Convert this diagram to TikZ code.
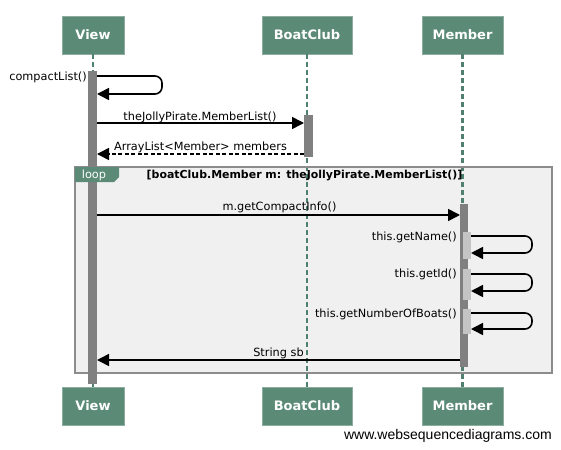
\documentclass[tikz,border=0pt]{standalone}
\usepackage{fontspec}
\setmainfont{DejaVu Sans}
\newfontfamily\wmfont{Liberation Sans}
\usetikzlibrary{arrows.meta}
\definecolor{wsgreen}{HTML}{5B8A76}
\definecolor{wsline}{HTML}{4F8070}
\definecolor{actgray}{HTML}{808080}
\definecolor{actlight}{HTML}{C4C4C4}
\definecolor{framefill}{HTML}{F0F0F0}
\definecolor{frameborder}{HTML}{8C8C8C}
\begin{document}
\begin{tikzpicture}[x=1pt,y=-1pt,
 participant/.style={fill=wsgreen, draw=wsgreen!70!white, line width=0.6pt, text=white,
   font=\fontsize{13}{15}\selectfont\bfseries, minimum height=38pt, inner sep=0pt},
 lifeline/.style={draw=wsline, line width=2.5pt, dash pattern=on 5pt off 3pt},
 actbar/.style={fill=actgray, draw=none},
 subbar/.style={fill=actlight, draw=none},
 msg/.style={line width=1.6pt, -{Triangle[length=12pt,width=12pt]}},
 retmsg/.style={msg, dash pattern=on 4pt off 2.5pt},
 selfmsg/.style={msg, rounded corners=7pt},
 lbl/.style={font=\fontsize{11.3}{13}\selectfont, inner sep=0pt},
]
\useasboundingbox (0,0) rectangle (561,449);

% participants
\node[participant, minimum width=62pt] (viewT) at (93,35) {View};
\node[participant, minimum width=90pt] (clubT) at (307,35) {BoatClub};
\node[participant, minimum width=81pt] (membT) at (462.5,35) {Member};
\node[participant, minimum width=62pt] (viewB) at (93,406) {View};
\node[participant, minimum width=90pt] (clubB) at (307,406) {BoatClub};
\node[participant, minimum width=81pt] (membB) at (462.5,406) {Member};

% loop frame fill
\fill[framefill] (75,167) rectangle (552,373);

% lifelines
\draw[lifeline] (viewT.south) -- (viewB.north);
\draw[lifeline] (clubT.south) -- (clubB.north);
\draw[lifeline] (membT.south) -- (membB.north);

% frame border
\draw[frameborder, line width=1.8pt] (75,167) rectangle (552,373);

% activation bars
\fill[actbar] (88,71) rectangle (97,384);
\fill[actbar] (304,115) rectangle (312.5,157);
\fill[actbar] (460,204) rectangle (468,367);
\fill[subbar] (463,232) rectangle (471,259);
\fill[subbar] (463,269) rectangle (471,300);
\fill[subbar] (463,309) rectangle (471,334);

% loop tab and condition
\fill[wsgreen] (75,167) -- (119,167) -- (119,177) -- (114,182) -- (75,182) -- cycle;
\node[lbl, text=white] (looplbl) at (94,175) {loop};
\node[lbl, font=\fontsize{10.95}{13}\selectfont\bfseries] (cond) at (304.5,176)
  {[boatClub.Member m: theJollyPirate.MemberList()]};

% message end points
\coordinate (c1a) at (97,76);   \coordinate (c1b) at (162,76);
\coordinate (c1c) at (162,94);  \coordinate (c1d) at (97,94);
\coordinate (m1a) at (97,123);  \coordinate (m1b) at (304,123);
\coordinate (r1a) at (304,154); \coordinate (r1b) at (97,154);
\coordinate (m2a) at (97,215);  \coordinate (m2b) at (460,215);
\coordinate (s1a) at (471,236); \coordinate (s1b) at (532,236);
\coordinate (s1c) at (532,253); \coordinate (s1d) at (471,253);
\coordinate (s2a) at (471,274); \coordinate (s2b) at (532,274);
\coordinate (s2c) at (532,291); \coordinate (s2d) at (471,291);
\coordinate (s3a) at (471,313); \coordinate (s3b) at (532,313);
\coordinate (s3c) at (532,329); \coordinate (s3d) at (471,329);
\coordinate (r2a) at (460,360); \coordinate (r2b) at (97,360);

% messages
\draw[selfmsg] (c1a) -- (c1b) -- (c1c) -- (c1d);
\draw[msg] (m1a) -- (m1b);
\draw[retmsg] (r1a) -- (r1b);
\draw[msg] (m2a) -- (m2b);
\draw[selfmsg] (s1a) -- (s1b) -- (s1c) -- (s1d);
\draw[selfmsg] (s2a) -- (s2b) -- (s2c) -- (s2d);
\draw[selfmsg] (s3a) -- (s3b) -- (s3c) -- (s3d);
\draw[msg] (r2a) -- (r2b);

% labels
\node[lbl, anchor=east] (l1) at (87,77) {compactList()};
\node[lbl] (l2) at (200,117) {theJollyPirate.MemberList()};
\node[lbl] (l3) at (200.5,147) {ArrayList<Member> members};
\node[lbl] (l4) at (279.5,207) {m.getCompactInfo()};
\node[lbl, anchor=east] (l5) at (457,237) {this.getName()};
\node[lbl, anchor=east] (l6) at (457,274) {this.getId()};
\node[lbl, anchor=east] (l7) at (457,314) {this.getNumberOfBoats()};
\node[lbl] (l8) at (278.5,353) {String sb};

% watermark
\node[font=\wmfont\fontsize{14}{16}\selectfont, anchor=east, inner sep=0pt] (wm) at (552,436)
  {www.websequencediagrams.com};
\end{tikzpicture}
\end{document}
